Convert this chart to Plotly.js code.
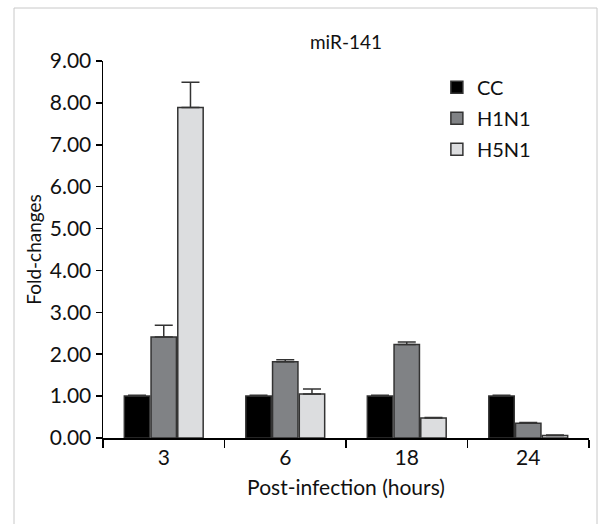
<!DOCTYPE html>
<html>
<head>
<meta charset="utf-8">
<script src="https://cdn.plot.ly/plotly-3.0.1.min.js"></script>
<style>
html,body{margin:0;padding:0;background:#fff;}
#chart{width:603px;height:524px;}
</style>
</head>
<body>
<div id="chart"></div>
<script>
var categories = ["3", "6", "18", "24"];
var seriesNames = ["CC", "H1N1", "H5N1"];
var ccValues = [1.00, 1.00, 1.00, 1.00];
var ccErrors = [0.02, 0.02, 0.02, 0.02];
var h1n1Values = [2.41, 1.82, 2.23, 0.35];
var h1n1Errors = [0.28, 0.05, 0.06, 0.02];
var h5n1Values = [7.89, 1.05, 0.48, 0.06];
var h5n1Errors = [0.60, 0.12, 0.01, 0.01];
var yTicks = [0, 1, 2, 3, 4, 5, 6, 7, 8, 9];

var FONT = "Lato, 'Open Sans', sans-serif";
var colors = ["#000000", "#808285", "#dcdddf"];
var valuesList = [ccValues, h1n1Values, h5n1Values];
var errorsList = [ccErrors, h1n1Errors, h5n1Errors];

var traces = seriesNames.map(function (name, i) {
  return {
    type: "bar",
    name: name,
    x: categories,
    y: valuesList[i],
    legendgroup: name,
    marker: { color: colors[i], line: { color: "#333333", width: 1.5 } },
    error_y: {
      type: "data",
      symmetric: false,
      array: errorsList[i],
      arrayminus: errorsList[i].map(function () { return 0; }),
      color: "#333333",
      thickness: 1.5,
      width: 9
    },
    hoverinfo: "x+y+name"
  };
});

var layout = {
  width: 603,
  height: 524,
  margin: { l: 103, r: 14, t: 61, b: 86 },
  paper_bgcolor: "#ffffff",
  plot_bgcolor: "#ffffff",
  font: { family: FONT, color: "#111111", size: 18 },
  barmode: "group",
  bargap: 0.34,
  bargroupgap: 0.05,
  showlegend: true,
  legend: {
    x: 0.687, xanchor: "left",
    y: 0.982, yanchor: "top",
    font: { family: FONT, size: 20, color: "#111111" },
    bgcolor: "rgba(0,0,0,0)",
    borderwidth: 0,
    tracegroupgap: 2,
    traceorder: "grouped"
  },
  title: {
    text: "miR-141",
    font: { family: FONT, size: 19, color: "#111111" },
    x: 0.5, xref: "paper", xanchor: "center",
    y: 1 - 42 / 524, yref: "container", yanchor: "middle"
  },
  xaxis: {
    type: "category",
    range: [-0.5, 3.5],
    showline: true,
    linecolor: "#000000",
    linewidth: 1.5,
    ticks: "outside",
    tickson: "boundaries",
    ticklen: 8,
    tickwidth: 1.5,
    tickcolor: "#000000",
    showgrid: false,
    zeroline: false,
    tickfont: { family: FONT, size: 21, color: "#111111" },
    title: { text: "Post-infection (hours)", font: { family: FONT, size: 21, color: "#111111" }, standoff: 12 }
  },
  yaxis: {
    range: [0, 9],
    tickvals: yTicks,
    tickformat: ".2f",
    showline: true,
    linecolor: "#000000",
    linewidth: 1.5,
    ticks: "outside",
    ticklen: 6,
    tickwidth: 1.5,
    tickcolor: "#000000",
    showgrid: false,
    zeroline: false,
    tickfont: { family: FONT, size: 21, color: "#111111" },
    title: { text: "Fold-changes", font: { family: FONT, size: 19, color: "#111111" }, standoff: 3 }
  },
  shapes: [{
    type: "rect",
    xref: "paper", yref: "paper",
    x0: (14 - 103) / 486, x1: (597 - 103) / 486,
    y0: (438 - 545) / 377, y1: (438 - 8) / 377,
    line: { color: "#c8c8c8", width: 1 },
    fillcolor: "rgba(0,0,0,0)",
    layer: "below"
  }]
};

Plotly.newPlot("chart", traces, layout, { displayModeBar: false, staticPlot: true });
</script>
</body>
</html>
